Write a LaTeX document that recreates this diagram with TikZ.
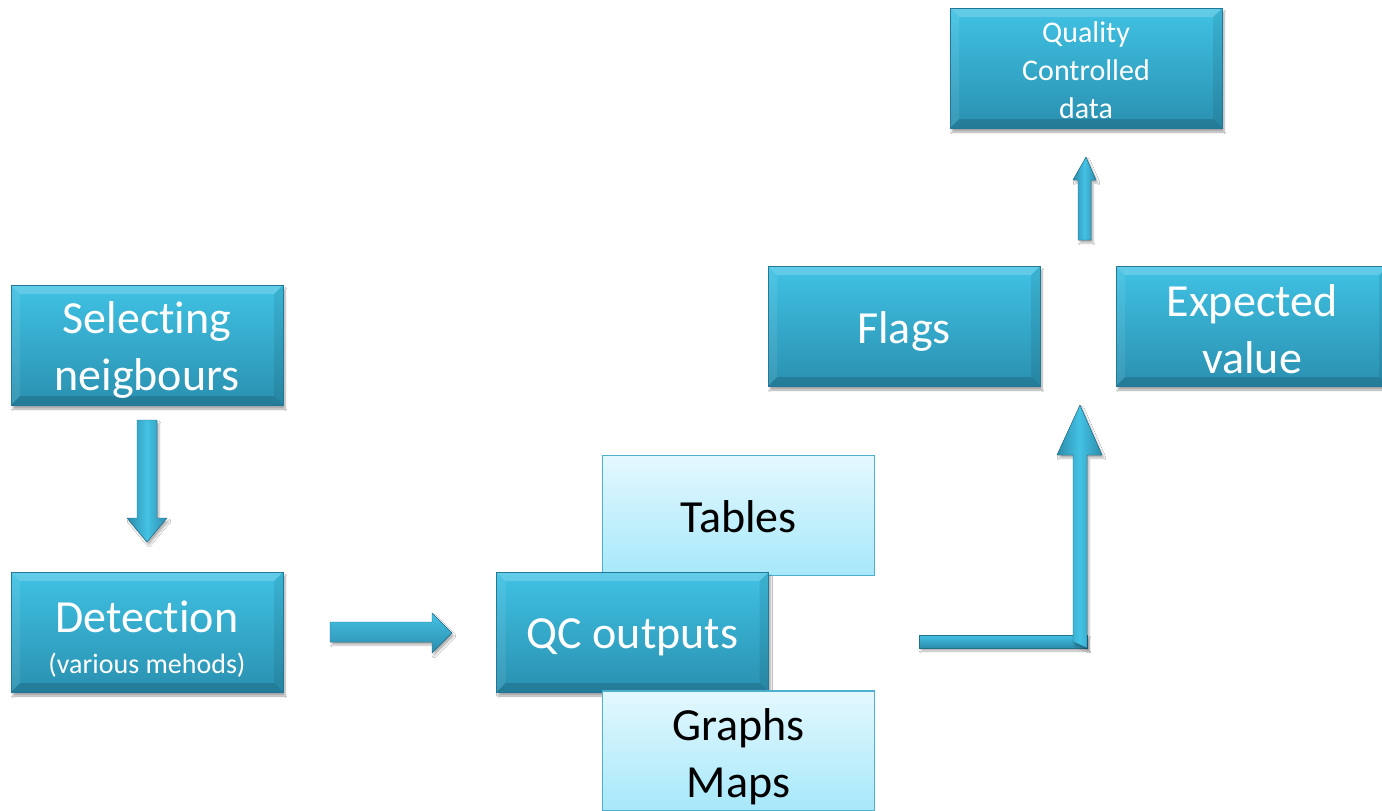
\documentclass[tikz,border=0pt]{standalone}
\usepackage{fontspec}
\setmainfont[Ligatures={NoCommon}]{Carlito}
\usetikzlibrary{shadows.blur}
\definecolor{btop}{RGB}{64,194,228}
\definecolor{bbot}{RGB}{42,144,176}
\definecolor{bedge}{RGB}{34,120,150}
\definecolor{ltop}{RGB}{228,248,254}
\definecolor{lbot}{RGB}{166,232,250}
\definecolor{ledge}{RGB}{78,176,208}
\definecolor{adark}{RGB}{44,140,172}
\definecolor{alight}{RGB}{68,194,228}
\tikzset{
  x=1pt, y=-1pt,
  bevel/.style={path picture={
    \fill[white,opacity=0.18] (path picture bounding box.north west) -- (path picture bounding box.north east) -- ([xshift=-9pt,yshift=-9pt]path picture bounding box.north east) -- ([xshift=9pt,yshift=-9pt]path picture bounding box.north west) -- cycle;
    \fill[black,opacity=0.14] (path picture bounding box.south west) -- (path picture bounding box.south east) -- ([xshift=-9pt,yshift=9pt]path picture bounding box.south east) -- ([xshift=9pt,yshift=9pt]path picture bounding box.south west) -- cycle;
    \fill[black,opacity=0.08] (path picture bounding box.north east) -- (path picture bounding box.south east) -- ([xshift=-9pt,yshift=9pt]path picture bounding box.south east) -- ([xshift=-9pt,yshift=-9pt]path picture bounding box.north east) -- cycle;
    \fill[white,opacity=0.08] (path picture bounding box.north west) -- (path picture bounding box.south west) -- ([xshift=9pt,yshift=9pt]path picture bounding box.south west) -- ([xshift=9pt,yshift=-9pt]path picture bounding box.north west) -- cycle;
  }},
  darkbox/.style={rectangle, minimum width=272pt, minimum height=120pt, inner sep=0pt, outer sep=0pt,
    top color=btop, bottom color=bbot, draw=bedge, line width=0.8pt, bevel,
    blur shadow={shadow xshift=2pt, shadow yshift=-4pt, shadow blur steps=6, shadow opacity=35}},
  lightbox/.style={rectangle, minimum width=272pt, minimum height=120pt, inner sep=0pt, outer sep=0pt,
    top color=ltop, bottom color=lbot, draw=ledge, line width=1.2pt},
  wtext/.style={text=white, align=center, inner sep=0pt, font=\fontsize{46}{57}\selectfont},
  btext/.style={text=black, align=center, inner sep=0pt, font=\fontsize{46}{57}\selectfont},
  vfat/.style={left color=adark, right color=adark, middle color=alight, draw=adark!80!black, line width=0.4pt,
    blur shadow={shadow xshift=2pt, shadow yshift=-3pt, shadow blur steps=4, shadow opacity=30}},
  hfat/.style={top color=alight, bottom color=adark, draw=adark!80!black, line width=0.4pt,
    blur shadow={shadow xshift=2pt, shadow yshift=-3pt, shadow blur steps=4, shadow opacity=30}},
}
\begin{document}
\begin{tikzpicture}
\useasboundingbox (0,0) rectangle (1382,811);
\fill[white] (0,0) rectangle (1382,811);

\node[darkbox] (sel) at (147,345) {};
\node[wtext] (selt) at ([yshift=-5pt]sel.center) {Selecting\\neigbours};
\node[darkbox] (det) at (147,632) {};
\node[wtext] (dett) at ([yshift=-7pt]det.center) {Detection\\[-16pt]{\fontsize{28}{34}\selectfont (various mehods)}};
\node[lightbox] (tab) at (738.5,515.5) {};
\node[btext] (tabt) at ([yshift=-1pt]tab.center) {Tables};
\node[darkbox] (qc) at (632.5,632) {};
\node[wtext] (qct) at ([yshift=-5pt]qc.center) {QC outputs};
\node[lightbox] (gra) at (738.5,751) {};
\node[btext] (grat) at ([yshift=-6pt]gra.center) {Graphs\\Maps};
\node[darkbox] (flags) at (904,326) {};
\node[wtext] (flagst) at ([yshift=-5pt]flags.center) {Flags};
\node[darkbox] (exp) at (1252,326) {};
\node[wtext] (expt) at ([yshift=-3pt]exp.center) {Expected\\value};
\node[darkbox] (qcd) at (1086,68) {};
\node[wtext, font=\fontsize{30}{38}\selectfont] (qcdt) at ([yshift=-2pt]qcd.center) {Quality\\Controlled\\data};

% down arrow: Selecting -> Detection
\coordinate (d1) at ([yshift=-15pt]sel.south);
\fill[vfat] ([xshift=-10pt]d1) -- ([xshift=10pt]d1) -- ++(0,98) -- ++(10,0) -- (147,542) -- (127,518) -- (137,518) -- cycle;

% right arrow: Detection -> QC outputs
\coordinate (r1) at ([xshift=47pt,yshift=10pt]det.east);
\fill[hfat] (r1) -- (432,622) -- (432,613) -- (452,633) -- (432,653) -- (432,642) -- (330,642) -- cycle;

% L arrow: QC outputs -> Flags / Expected value
\coordinate (l1) at (919,635);
\fill[hfat] (l1) -- (1087,635) -- (1087,648) -- (919,648) -- cycle;
\fill[vfat] (1073,642) -- (1073,455) -- (1057,455) -- (1080,405) -- (1102,455) -- (1087,455) -- (1087,648) -- cycle;

% up arrow: -> Quality Controlled data
\coordinate (u1) at ([yshift=-29pt]qcd.south);
\fill[vfat] (1078,240) -- (1078,180) -- (1073,180) -- (u1) -- (1096,180) -- (1091,180) -- (1091,240) -- cycle;
\end{tikzpicture}
\end{document}
